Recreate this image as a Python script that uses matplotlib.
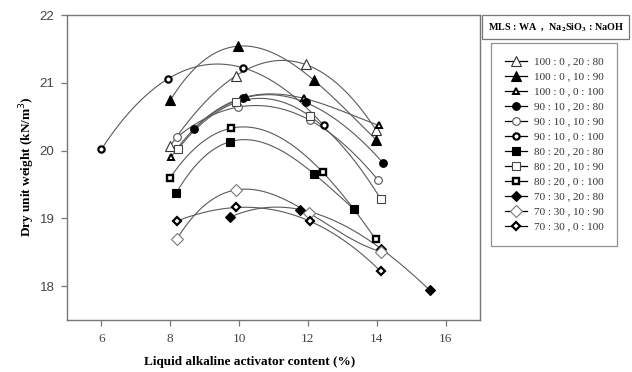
import numpy as np
import matplotlib
matplotlib.use("Agg")
import matplotlib.pyplot as plt
from matplotlib.lines import Line2D
from matplotlib.patches import Rectangle

# ---- data ----
labels = ["100 : 0 , 20 : 80", "100 : 0 , 10 : 90", "100 : 0 , 0 : 100",
          "90 : 10 , 20 : 80", "90 : 10 , 10 : 90", "90 : 10 , 0 : 100",
          "80 : 20 , 20 : 80", "80 : 20 , 10 : 90", "80 : 20 , 0 : 100",
          "70 : 30 , 20 : 80", "70 : 30 , 10 : 90", "70 : 30 , 0 : 100"]

x1 = [8.0, 9.9, 11.93, 13.97];   y1 = [20.07, 21.10, 21.27, 20.31]
x2 = [8.0, 9.96, 12.17, 13.98];  y2 = [20.74, 21.54, 21.04, 20.16]
x3 = [8.03, 10.19, 11.88, 14.06]; y3 = [19.91, 20.79, 20.77, 20.37]
x4 = [8.68, 10.12, 11.93, 14.18]; y4 = [20.32, 20.77, 20.71, 19.82]
x5 = [8.2, 9.96, 12.05, 14.03];  y5 = [20.20, 20.64, 20.45, 19.57]
x6 = [6.0, 7.94, 10.12, 12.46];  y6 = [20.02, 21.06, 21.22, 20.37]
x7 = [8.17, 9.73, 12.17, 13.33]; y7 = [19.37, 20.13, 19.66, 19.14]
x8 = [8.22, 9.92, 12.05, 14.11]; y8 = [20.02, 20.71, 20.51, 19.29]
x9 = [8.0, 9.77, 12.43, 13.97];  y9 = [19.60, 20.33, 19.68, 18.69]
x10 = [9.75, 11.78, 14.13, 15.54]; y10 = [19.02, 19.13, 18.55, 17.94]
x11 = [8.2, 9.92, 12.03, 14.11]; y11 = [18.70, 19.42, 19.08, 18.51]
x12 = [8.2, 9.92, 12.05, 14.11]; y12 = [18.96, 19.16, 18.96, 18.22]

xs = [x1, x2, x3, x4, x5, x6, x7, x8, x9, x10, x11, x12]
ys = [y1, y2, y3, y4, y5, y6, y7, y8, y9, y10, y11, y12]

x_ticks = [6, 8, 10, 12, 14, 16]
y_ticks = [18, 19, 20, 21, 22]

# ---- styles ----
W, K = "white", "black"
styles = [
    dict(marker="^", ms=6.5, mfc=W, mec="#333333", mew=0.8),
    dict(marker="^", ms=6.5, mfc=K, mec=K, mew=0.8),
    dict(marker="^", ms=4.5, mfc=W, mec=K, mew=1.4),
    dict(marker="o", ms=5.5, mfc=K, mec=K, mew=0.8),
    dict(marker="o", ms=5.5, mfc=W, mec="#555555", mew=0.8),
    dict(marker="o", ms=4.5, mfc=W, mec=K, mew=1.6),
    dict(marker="s", ms=5.5, mfc=K, mec=K, mew=0.8),
    dict(marker="s", ms=6, mfc=W, mec="#444444", mew=0.8),
    dict(marker="s", ms=5, mfc=W, mec=K, mew=1.7),
    dict(marker="D", ms=5.5, mfc=K, mec=K, mew=0.8),
    dict(marker="D", ms=6, mfc=W, mec="#777777", mew=0.8),
    dict(marker="D", ms=4.5, mfc=W, mec=K, mew=1.6),
]

fig = plt.figure(figsize=(6.32, 3.72), dpi=100)
ax = fig.add_axes([67/632, 1-320/372, (480-67)/632, (320-15)/372])

for x, y, st in zip(xs, ys, styles):
    x = np.array(x); y = np.array(y)
    c = np.polyfit(x, y, 3)
    xx = np.linspace(x.min(), x.max(), 200)
    ax.plot(xx, np.polyval(c, xx), color="#5a5a5a", lw=0.8, zorder=2)
    ax.plot(x, y, linestyle="none", zorder=3, **st)

ax.set_xlim(5, 17)
ax.set_ylim(17.5, 22)
ax.set_xticks(x_ticks)
ax.set_yticks(y_ticks)
for sp in ax.spines.values():
    sp.set_color("#777777")
    sp.set_linewidth(1.0)
ax.tick_params(direction="out", length=4, width=0.9, color="#777777", pad=5)
for t in ax.get_xticklabels():
    t.set_fontfamily("Liberation Serif"); t.set_fontsize(9.5); t.set_color("#444444")
for t in ax.get_yticklabels():
    t.set_fontfamily("Liberation Sans"); t.set_fontsize(9.5); t.set_color("#444444")

fig.text(250/632, 1-362/372, "Liquid alkaline activator content (%)", ha="center", va="center",
         fontfamily="Liberation Serif", fontweight="bold", fontsize=9.5)
fig.text(27/632, 1-167/372, "Dry unit weight (kN/m$^3$)", ha="center", va="center", rotation=90,
         fontfamily="Liberation Serif", fontweight="bold", fontsize=9.5)

# legend
handles = [Line2D([0], [0], color="black", lw=0.9, **st) for st in styles]
leg = fig.legend(handles, labels, loc="upper left",
                 bbox_to_anchor=(491/632, 1-43/372),
                 frameon=True, fancybox=False, edgecolor="#777777",
                 prop=dict(family="Liberation Serif", size=8), labelspacing=0.47,
                 handlelength=2.0, handletextpad=0.6, borderpad=1.25, borderaxespad=0)
leg.get_frame().set_linewidth(0.9)
for t in leg.get_texts():
    t.set_color("#333333")

# title box
fig.patches.append(Rectangle((482/632, 1-39/372), (629-482)/632, 24/372, transform=fig.transFigure,
                             fill=False, edgecolor="#777777", lw=0.9))
fig.text(556/632, 1-27/372, r"MLS : WA  ,  Na$_\mathbf{2}$SiO$_\mathbf{3}$ : NaOH", ha="center", va="center",
         fontfamily="Liberation Serif", fontweight="bold", fontsize=7.3,
         math_fontfamily="stix")

fig.savefig("out.png", dpi=100)
